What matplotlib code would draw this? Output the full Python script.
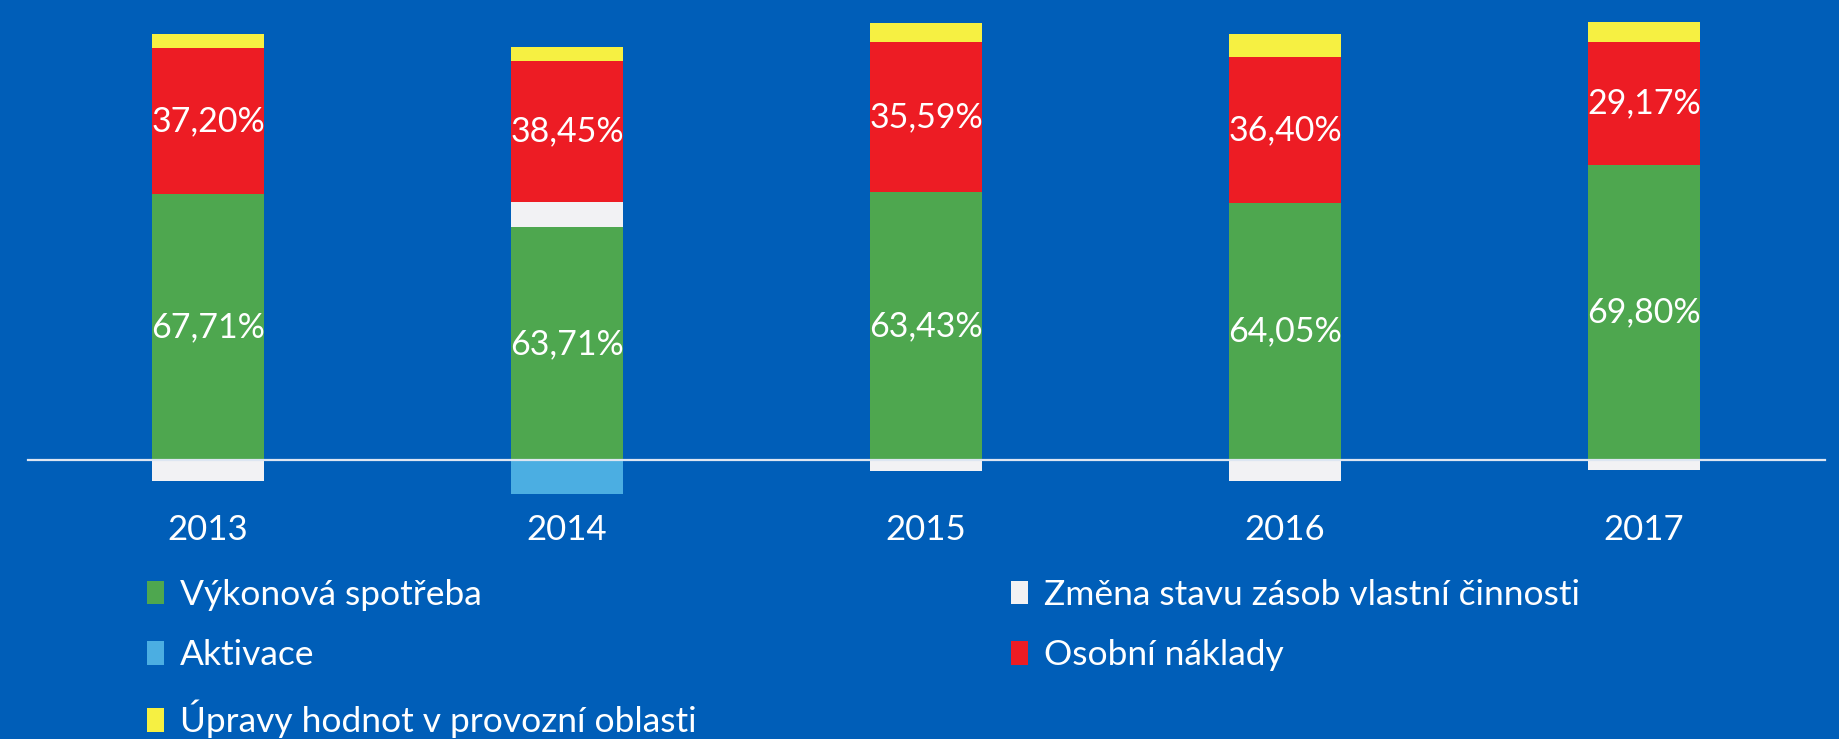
import numpy as np
import matplotlib.pyplot as plt
from matplotlib.patches import Patch

plt.rcParams['font.family'] = ['Lato', 'DejaVu Sans']

years = ['2013', '2014', '2015', '2016', '2017']
# order as in the source legend
series = ['Výkonová spotřeba', 'Změna stavu zásob vlastní činnosti', 'Aktivace',
          'Osobní náklady', 'Úpravy hodnot v provozní oblasti']
vykonova = [67.71, 63.71, 63.43, 64.05, 69.80]
zmena = [-5.37, 6.94, -2.45, -5.23, -2.21]
aktivace = [0.0, -9.31, 0.0, 0.0, 0.0]
osobni = [37.20, 38.45, 35.59, 36.40, 29.17]
upravy = [3.66, 3.92, 4.35, 5.73, 4.66]
labelled = [True, False, False, True, False]

colors = ['#4EA74F', '#F2F2F4', '#4BAEE2', '#ED1C24', '#F6F042']
bg = '#005EB8'

data = np.array([vykonova, zmena, aktivace, osobni, upravy])
# 100% stacked: each year normalised by sum of absolute values
shares = data / np.abs(data).sum(axis=0)

fig = plt.figure(figsize=(18.39, 7.39), dpi=100)
fig.patch.set_facecolor(bg)
ax = fig.add_axes([0, 0, 1, 1])
ax.set_facecolor(bg)
ax.set_xlim(-0.58, 4.543)
ax.set_ylim(-0.6235, 1.0292)
ax.axis('off')

x = np.arange(len(years))
w = 0.312
pos = np.zeros(len(years))
neg = np.zeros(len(years))
for i in range(len(series)):
    s = shares[i]
    bottom = np.where(s >= 0, pos, neg)
    ax.bar(x, s, w, bottom=bottom, color=colors[i], linewidth=0, zorder=2)
    if labelled[i]:
        for j in range(len(years)):
            ax.text(x[j], bottom[j] + s[j] / 2, f'{data[i][j]:.2f}%'.replace('.', ','),
                    ha='center', va='center', color='white', fontsize=24.5, zorder=3)
    pos = np.where(s >= 0, pos + s, pos)
    neg = np.where(s < 0, neg + s, neg)

ax.plot([-0.502, 4.504], [0, 0], color='#DDE6F2', lw=1.6, zorder=3)

for j in range(len(years)):
    ax.text(x[j], -0.157, years[j], ha='center', va='center', color='white', fontsize=25)

# legend, two columns like the original
col1 = [0, 2, 4]
col2 = [1, 3]
for idx, xpos in [(col1, 147 / 1839), (col2, 1011 / 1839)]:
    handles = [Patch(facecolor=colors[k], edgecolor='none') for k in idx]
    fig.legend(handles, [series[k] for k in idx], loc='upper left',
               bbox_to_anchor=(xpos, 1 - 579 / 739), frameon=False,
               fontsize=25.5, labelcolor='white', handlelength=0.48, handleheight=0.65,
               handletextpad=0.45, labelspacing=0.8, borderaxespad=0, borderpad=0)

fig.savefig('out.png', dpi=100, facecolor=bg)
